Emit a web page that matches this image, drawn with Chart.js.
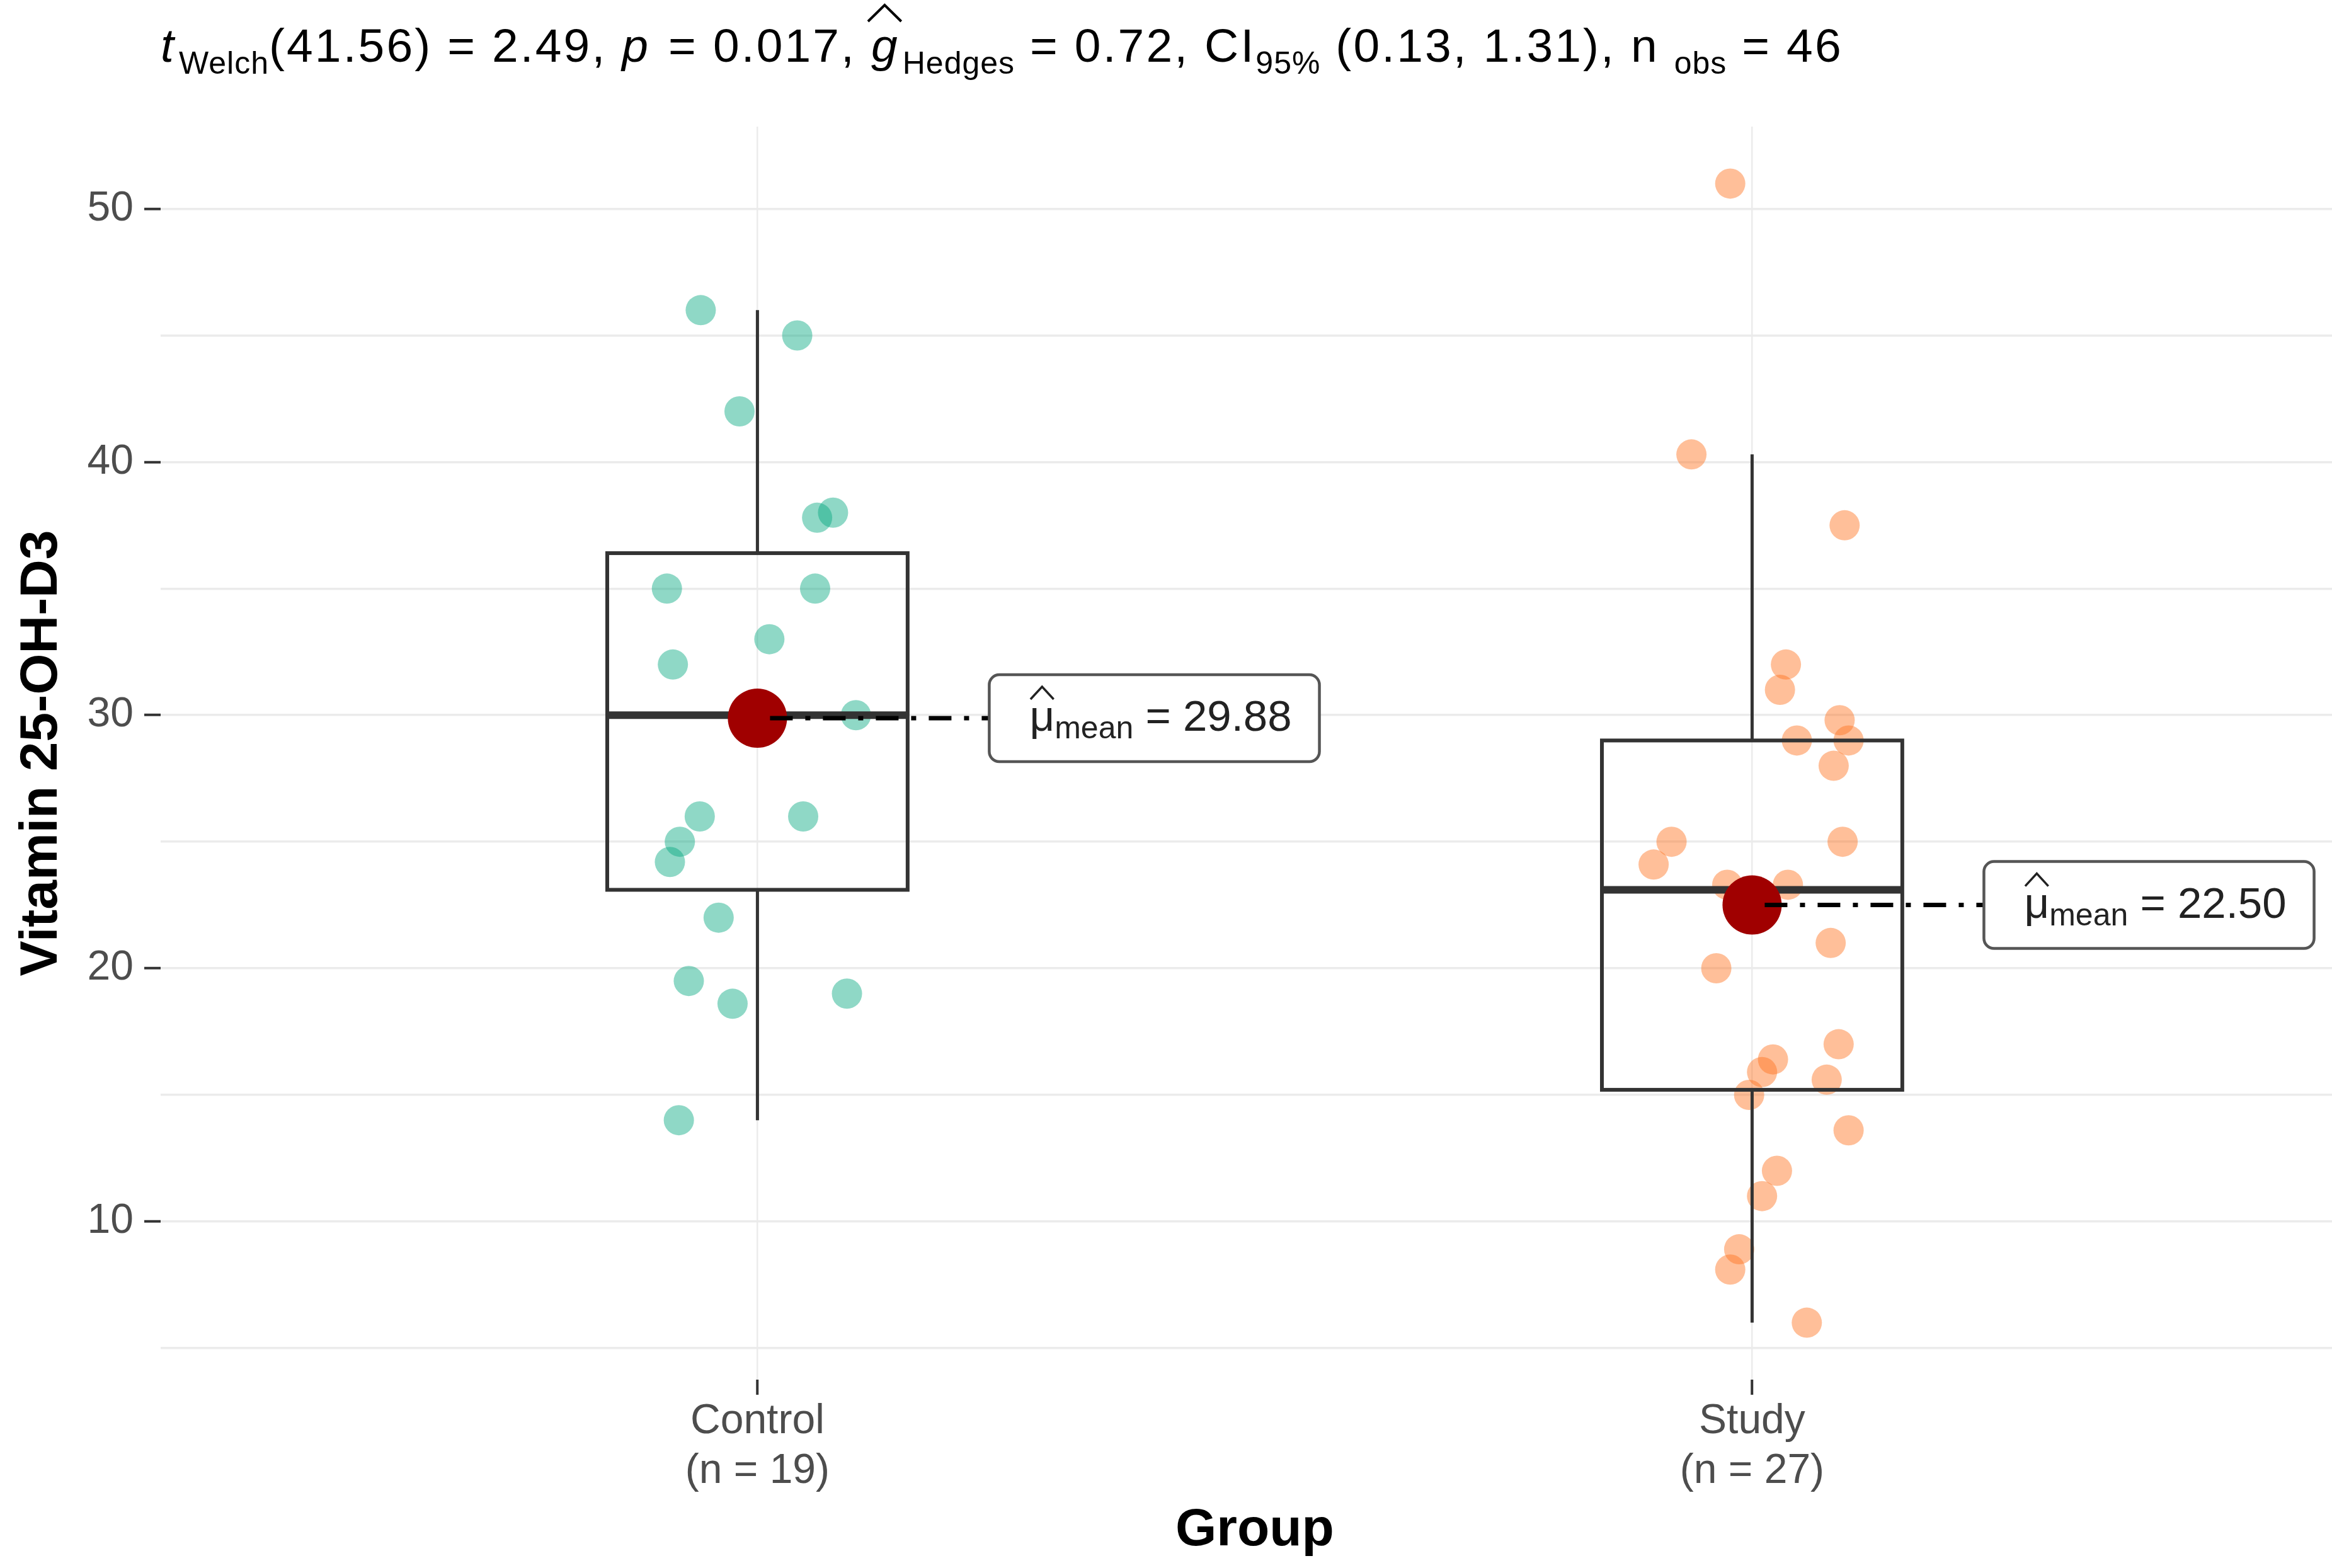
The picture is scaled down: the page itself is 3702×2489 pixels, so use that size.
<!DOCTYPE html>
<html lang="en">
<head>
<meta charset="UTF-8">
<title>Vitamin 25-OH-D3 by Group</title>
<script src="https://cdn.jsdelivr.net/npm/chart.js"></script>
<style>
  html, body { margin: 0; padding: 0; background: #fff; }
  #wrap { width: 3702px; height: 2489px; }
</style>
</head>
<body>
<div id="wrap"><canvas id="chart"></canvas></div>
<script>
// values
const groups = ['Control', 'Study'];
const groupN = [19, 27];

const controlX = [0.943, 1.040, 0.982, 1.060, 1.076, 0.909, 1.058, 1.012, 0.915, 1.099,
                  0.942, 1.046, 0.922, 0.912, 0.961, 0.931, 0.975, 1.090, 0.921];
const controlY = [46, 45, 42, 37.8, 38, 35, 35, 33, 32, 30,
                  26, 26, 25, 24.2, 22, 19.5, 18.6, 19, 14];

const studyX = [1.978, 1.939, 2.093, 2.034, 2.028, 2.088, 2.045, 2.097, 2.082, 2.091,
                1.919, 1.901, 2.036, 1.975, 2.079, 1.964, 2.087, 2.021, 2.010, 1.997,
                2.075, 2.097, 2.025, 2.010, 1.987, 1.978, 2.055];
const studyY = [51, 40.3, 37.5, 32, 31, 29.8, 29, 29, 28, 25,
                25, 24.1, 23.3, 23.3, 21, 20, 17, 16.4, 15.9, 15,
                15.6, 13.6, 12, 11, 8.9, 8.1, 6];

const q1 = [23.1, 15.2];
const medians = [30.0, 23.1];
const q3 = [36.4, 29.0];
const whiskerLow = [14, 6];
const whiskerHigh = [46, 40.3];
const means = [29.88, 22.50];

const yTicks = [5, 10, 15, 20, 25, 30, 35, 40, 45, 50];

const FONT = "'Liberation Sans', Arial, sans-serif";
const BOX_HALF = 0.151;

function toPoints(xs, ys) {
  return xs.map((x, i) => ({ x: x, y: ys[i] }));
}

// hat drawn above a glyph
function drawHat(ctx, x0, w, yTop, h) {
  ctx.beginPath();
  ctx.moveTo(x0 + w * 0.08, yTop + h);
  ctx.lineTo(x0 + w / 2, yTop);
  ctx.lineTo(x0 + w * 0.92, yTop + h);
  ctx.stroke();
}

// rich text subtitle + x axis title centred on the full x range
const textPlugin = {
  id: 'richText',
  afterDraw(chart) {
    const ctx = chart.ctx;
    const parts = [
      { t: 't', it: true }, { t: 'Welch', sub: true }, { t: '(41.56) = 2.49, ' },
      { t: 'p', it: true }, { t: ' = 0.017, ' },
      { t: 'g', it: true, hat: true }, { t: 'Hedges', sub: true }, { t: ' = 0.72, CI' },
      { t: '95%', sub: true }, { t: ' (0.13, 1.31), n ' }, { t: 'obs', sub: true }, { t: ' = 46' }
    ];
    let x = 255;
    const base = 98;
    ctx.save();
    ctx.fillStyle = '#000';
    ctx.strokeStyle = '#000';
    ctx.textBaseline = 'alphabetic';
    parts.forEach(p => {
      const size = p.sub ? 50 : 75;
      ctx.font = (p.it ? 'italic ' : '') + size + 'px ' + FONT;
      ctx.letterSpacing = p.sub ? '1px' : '3.1px';
      const w = ctx.measureText(p.t).width;
      ctx.fillText(p.t, x, p.sub ? base + 19 : base);
      if (p.hat) {
        ctx.lineWidth = 4;
        drawHat(ctx, x - 10, w + 18, base - 90, 26);
      }
      x += w + (p.it ? 5 : 0);
    });
    ctx.letterSpacing = '0px';

    // x axis title
    const xs = chart.scales.x;
    ctx.font = 'bold 84px ' + FONT;
    ctx.textAlign = 'center';
    ctx.textBaseline = 'middle';
    ctx.fillText('Group', xs.getPixelForValue(1.5), 2430);
    ctx.restore();
  }
};

// boxes, whiskers, mean connectors and labels
const boxPlugin = {
  id: 'boxes',
  beforeDatasetDraw(chart, args) {
    if (args.index !== 0) return;
    const { ctx, scales: { x, y } } = chart;
    ctx.save();
    ctx.strokeStyle = '#333333';
    groups.forEach((g, i) => {
      const c = i + 1;
      const cx = x.getPixelForValue(c);
      const l = x.getPixelForValue(c - BOX_HALF);
      const r = x.getPixelForValue(c + BOX_HALF);
      const top = y.getPixelForValue(q3[i]);
      const bot = y.getPixelForValue(q1[i]);
      ctx.lineWidth = 5;
      ctx.beginPath();
      ctx.moveTo(cx, top); ctx.lineTo(cx, y.getPixelForValue(whiskerHigh[i]));
      ctx.moveTo(cx, bot); ctx.lineTo(cx, y.getPixelForValue(whiskerLow[i]));
      ctx.stroke();
      ctx.lineWidth = 6;
      ctx.strokeRect(l, top, r - l, bot - top);
      ctx.lineWidth = 12;
      ctx.beginPath();
      const m = y.getPixelForValue(medians[i]);
      ctx.moveTo(l, m); ctx.lineTo(r, m);
      ctx.stroke();
    });
    ctx.restore();
  },
  afterDatasetsDraw(chart) {
    const { ctx, scales: { x, y } } = chart;
    ctx.save();
    groups.forEach((g, i) => {
      const cx = x.getPixelForValue(i + 1);
      const my = y.getPixelForValue(means[i]);
      const boxL = cx + 368;
      const mainFont = '69px ' + FONT;
      const subFont = '50px ' + FONT;
      ctx.font = mainFont;
      const wMu = ctx.measureText('μ').width;
      const rest = ' = ' + means[i].toFixed(2);
      const wRest = ctx.measureText(rest).width;
      ctx.font = subFont;
      const wSub = ctx.measureText('mean').width;
      const tw = wMu + wSub + wRest;
      const padL = 64, padR = 44;
      const bw = tw + padL + padR, bh = 138;

      // dot-dash connector
      ctx.strokeStyle = '#000';
      ctx.lineWidth = 7;
      ctx.setLineDash([36, 20, 8, 20]);
      ctx.beginPath();
      ctx.moveTo(cx + 20, my);
      ctx.lineTo(boxL, my);
      ctx.stroke();
      ctx.setLineDash([]);

      // label box
      ctx.fillStyle = '#fff';
      ctx.strokeStyle = '#555';
      ctx.lineWidth = 4.5;
      ctx.beginPath();
      ctx.roundRect(boxL, my - bh / 2, bw, bh, 16);
      ctx.fill();
      ctx.stroke();

      // label text
      const base = my + 20;
      let tx = boxL + padL;
      ctx.fillStyle = '#222';
      ctx.textBaseline = 'alphabetic';
      ctx.font = mainFont;
      ctx.fillText('μ', tx, base);
      ctx.strokeStyle = '#222';
      ctx.lineWidth = 3.5;
      drawHat(ctx, tx - 2, wMu + 4, base - 70, 20);
      tx += wMu;
      ctx.font = subFont;
      ctx.fillText('mean', tx, base + 12);
      tx += wSub;
      ctx.font = mainFont;
      ctx.fillText(rest, tx, base);
    });
    ctx.restore();
  }
};

new Chart(document.getElementById('chart'), {
  type: 'scatter',
  data: {
    datasets: [
      {
        label: 'mean',
        data: means.map((m, i) => ({ x: i + 1, y: m })),
        backgroundColor: '#a00000',
        borderWidth: 0,
        pointRadius: 47
      },
      {
        label: groups[1],
        data: toPoints(studyX, studyY),
        backgroundColor: 'rgba(255,113,29,0.45)',
        borderWidth: 0,
        pointRadius: 24
      },
      {
        label: groups[0],
        data: toPoints(controlX, controlY),
        backgroundColor: 'rgba(7,169,129,0.45)',
        borderWidth: 0,
        pointRadius: 24
      }
    ]
  },
  options: {
    responsive: true,
    maintainAspectRatio: false,
    devicePixelRatio: 1,
    animation: false,
    layout: { padding: { top: 201, right: 0, left: 0, bottom: 0 }, autoPadding: false },
    plugins: { legend: { display: false }, tooltip: { enabled: false } },
    scales: {
      x: {
        type: 'linear',
        min: 0.4,
        max: 2.583,
        afterBuildTicks: s => { s.ticks = [1, 2].map(v => ({ value: v })); },
        afterFit: s => { s.height = 299; },
        border: { display: false },
        grid: { color: '#ebebeb', lineWidth: 2.5, tickColor: '#333', tickLength: 24, tickWidth: 4 },
        ticks: {
          color: '#4d4d4d',
          padding: 3,
          font: { family: FONT, size: 66, lineHeight: 1.2 },
          callback: v => [groups[v - 1], '(n = ' + groupN[v - 1] + ')']
        },
        title: { display: false }
      },
      y: {
        min: 3.75,
        max: 53.25,
        afterBuildTicks: s => { s.ticks = yTicks.map(v => ({ value: v })); },
        afterFit: s => { s.width = 255; },
        border: { display: false },
        grid: {
          color: '#ebebeb',
          lineWidth: 3.5,
          tickLength: 26,
          tickWidth: 4,
          tickColor: c => (c.tick && c.tick.value % 10 === 0) ? '#333' : 'rgba(0,0,0,0)'
        },
        ticks: {
          color: '#4d4d4d',
          padding: 17,
          font: { family: FONT, size: 66 },
          callback: v => (v % 10 === 0 ? v : '')
        },
        title: {
          display: true,
          text: 'Vitamin 25-OH-D3',
          color: '#000',
          padding: { top: 16, bottom: 0 },
          font: { family: FONT, size: 84, weight: 'bold' }
        }
      }
    }
  },
  plugins: [boxPlugin, textPlugin]
});
</script>
</body>
</html>
